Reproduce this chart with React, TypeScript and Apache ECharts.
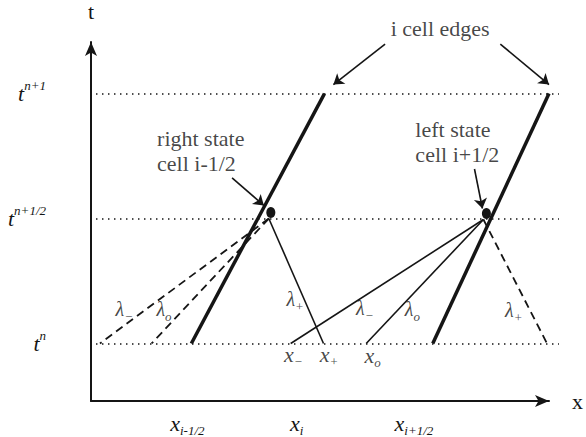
import React, { useEffect, useRef } from "react";
import * as echarts from "echarts";

const W = 586;
const H = 437;
const INK = "#151515";
const SERIF = "Liberation Serif";

// time levels: t^n = 0, t^{n+1/2} = 0.5, t^{n+1} = 1
const timeLevels = [0, 0.5, 1];
const timeSups = ["n", "n+1/2", "n+1"];

// x tick positions and their subscripts
const xTicks = [97, 207, 325];
const xTickSubs = ["i-1/2", "i", "i+1/2"];

// dotted time-level lines: x range
const dottedRange = [5, 471];

// cell edges: [x at t^n, x at t^{n+1}]
const cellEdges = [
  [101, 235],
  [344, 461],
];

// states at t^{n+1/2}: [x, t]
const stateDots = [
  [181, 0.524],
  [398, 0.52],
];

// characteristic origins
const rightOrigin = [179, 0.5];
const leftOrigin = [395, 0.496];
// feet of characteristics at t^n
const rightFeetDashed = [9, 61];
const rightFeetSolid = [234];
const leftFeetSolid = [201, 277];
const leftFeetDashed = [459];

// lambda labels
const lambdaPos = [
  [34, 0.135],
  [74, 0.135],
  [206, 0.175],
  [276, 0.139],
  [324, 0.135],
  [426, 0.131],
];
const lambdaSubs = ["\u2212", "o", "+", "\u2212", "o", "+"];

// x_-, x_+, x_o foot labels
const footPos = [
  [204, -0.048],
  [240, -0.046],
  [284, -0.05],
];
const footSubs = ["\u2212", "+", "o"];

// annotation texts: [x, t] (left-aligned anchor / centre)
const annoTexts = ["i cell edges", "right state\ncell i-1/2", "left state\ncell i+1/2"];
const annoPos = [
  [352, 1.258],
  [67, 0.77],
  [327, 0.806],
];
const annoAlign = ["center", "left", "left"];

// annotation arrows: [[x1,t1],[x2,t2]]
const arrows = [
  [[296, 1.198], [244, 1.036]],
  [[412, 1.198], [461, 1.036]],
  [[142, 0.663], [174, 0.552]],
  [[386, 0.698], [394, 0.54]],
];

const segs = (pairs: number[][][]) => pairs.map((c) => ({ coords: c }));

function buildOption(): any {
  const nearest = (arr: number[], v: number) => {
    let bi = 0;
    arr.forEach((a, i) => {
      if (Math.abs(a - v) < Math.abs(arr[bi] - v)) bi = i;
    });
    return bi;
  };
  const plain = { color: INK, textBorderWidth: 0, textBorderColor: "transparent", textShadowBlur: 0 };
  const mathRich = {
    v: { ...plain, fontFamily: SERIF, fontStyle: "italic", fontSize: 22 },
    l: { ...plain, fontFamily: SERIF, fontStyle: "italic", fontSize: 20 },
    s: { ...plain, fontFamily: SERIF, fontStyle: "italic", fontSize: 13, padding: [14, 0, 0, 0] },
    sup: { ...plain, fontFamily: SERIF, fontStyle: "italic", fontSize: 13, padding: [0, 0, 16, 0] },
  };
  const lineBase = {
    type: "lines",
    coordinateSystem: "cartesian2d",
    polyline: false,
    clip: false,
    silent: true,
    symbol: ["none", "none"],
  };
  const textScatter = (name: string, data: number[][], formatter: (p: any) => string) => ({
    type: "scatter",
    name,
    silent: true,
    clip: false,
    symbolSize: 1,
    itemStyle: { color: "rgba(255,255,255,0)" },
    label: {
      show: true,
      position: [0, 0],
      align: "center",
      verticalAlign: "middle",
      fontFamily: SERIF,
      ...plain,
      formatter,
      rich: mathRich,
    },
    data,
  });
  return {
    animation: false,
    backgroundColor: "#fff",
    textStyle: { fontFamily: SERIF },
    grid: { left: 91, top: 40, right: 34, bottom: 35 },
    xAxis: {
      type: "value",
      min: 0,
      max: 461,
      name: "x",
      nameLocation: "end",
      nameGap: 23,
      nameTextStyle: { fontFamily: SERIF, fontSize: 22, color: INK, padding: [12, 0, 0, 0] },
      splitLine: { show: false },
      axisTick: { show: false },
      axisLine: {
        show: true,
        onZero: false,
        symbol: ["none", "arrow"],
        symbolSize: [9, 14],
        lineStyle: { color: INK, width: 2 },
      },
      axisLabel: {
        customValues: xTicks,
        margin: 9,
        fontFamily: SERIF,
        color: INK,
        formatter: (v: number) => `{v|x}{s|${xTickSubs[nearest(xTicks, v)]}}`,
        rich: mathRich,
      },
    },
    yAxis: {
      type: "value",
      min: -0.2302,
      max: 1.2063,
      name: "t",
      nameLocation: "end",
      nameGap: 20,
      nameTextStyle: { fontFamily: SERIF, fontSize: 22, color: INK, align: "center" },
      splitLine: { show: false },
      axisTick: { show: false },
      axisLine: {
        show: true,
        onZero: false,
        symbol: ["none", "arrow"],
        symbolSize: [9, 14],
        lineStyle: { color: INK, width: 2 },
      },
      axisLabel: {
        customValues: timeLevels,
        margin: 45,
        fontFamily: SERIF,
        color: INK,
        formatter: (v: number) => `{v|t}{sup|${timeSups[nearest(timeLevels, v)]}}`,
        rich: mathRich,
      },
    },
    series: [
      {
        ...lineBase,
        name: "levels",
        lineStyle: { color: INK, width: 1.5, type: [1.5, 4.5], opacity: 1 },
        data: segs(timeLevels.map((t) => [[dottedRange[0], t], [dottedRange[1], t]])),
      },
      {
        ...lineBase,
        name: "edges",
        lineStyle: { color: INK, width: 3.5, opacity: 1 },
        data: segs(cellEdges.map((e) => [[e[0], 0], [e[1], 1]])),
      },
      {
        ...lineBase,
        name: "solid chars",
        lineStyle: { color: INK, width: 1.6, opacity: 1 },
        data: segs([
          ...rightFeetSolid.map((x) => [rightOrigin, [x, 0]]),
          ...leftFeetSolid.map((x) => [leftOrigin, [x, 0]]),
        ]),
      },
      {
        ...lineBase,
        name: "dashed chars",
        lineStyle: { color: INK, width: 1.8, type: [8, 5], opacity: 1 },
        data: segs([
          ...rightFeetDashed.map((x) => [rightOrigin, [x, 0]]),
          ...leftFeetDashed.map((x) => [leftOrigin, [x, 0]]),
        ]),
      },
      {
        ...lineBase,
        name: "arrows",
        symbol: ["none", "arrow"],
        symbolSize: 10,
        lineStyle: { color: INK, width: 1.6, opacity: 1 },
        itemStyle: { color: INK },
        data: segs(arrows),
      },
      {
        type: "scatter",
        name: "states",
        silent: true,
        clip: false,
        symbol: "circle",
        symbolSize: [9, 11],
        itemStyle: { color: INK, opacity: 1 },
        data: stateDots,
      },
      textScatter("lambda labels", lambdaPos, (p: any) => `{l|\u03bb}{s|${lambdaSubs[p.dataIndex]}}`),
      textScatter("foot labels", footPos, (p: any) => `{v|x}{s|${footSubs[p.dataIndex]}}`),
      {
        type: "scatter",
        name: "annotations",
        silent: true,
        clip: false,
        symbolSize: 1,
        itemStyle: { color: "rgba(255,255,255,0)" },
        data: annoPos.map((p, i) => ({
          value: p,
          label: {
            show: true,
            position: [0, 0],
            align: annoAlign[i],
            verticalAlign: "middle",
            formatter: annoTexts[i],
            fontFamily: SERIF,
            fontSize: 22,
            lineHeight: 25,
            ...plain,
          },
        })),
      },
    ],
  };
}

export default function App() {
  const ref = useRef<HTMLDivElement>(null);
  useEffect(() => {
    if (!ref.current) return;
    const chart = echarts.init(ref.current, null, { renderer: "svg" });
    chart.setOption(buildOption());
    return () => chart.dispose();
  }, []);
  return (
    <div
      ref={ref}
      style={{ position: "fixed", left: 0, top: 0, width: W, height: H, background: "#fff" }}
    />
  );
}
